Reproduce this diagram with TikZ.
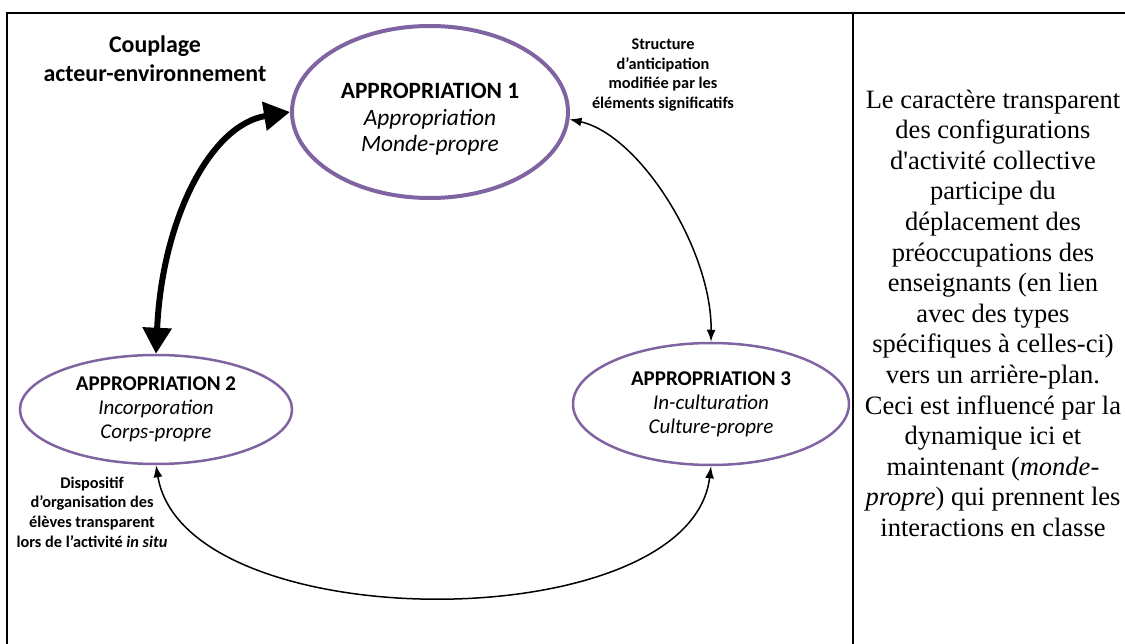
\documentclass[tikz,border=0pt]{standalone}
\usepackage{fontspec}
\setmainfont{Carlito}
\newfontfamily\cellfont{Liberation Serif}
\usetikzlibrary{shapes.geometric,arrows.meta}
\definecolor{phasepurple}{RGB}{128,100,162}

\begin{document}
\begin{tikzpicture}[x=1pt, y=-1pt,
        phase/.style={ellipse, draw=phasepurple, line width=2.5pt, inner sep=0pt, align=center, font=\fontsize{21}{24}\selectfont},
        mainphase/.style={phase, line width=4pt, font=\fontsize{23.4}{26.5}\selectfont},
        note/.style={align=center, anchor=base, inner sep=0pt, font=\bfseries\fontsize{16.3}{19.6}\selectfont},
        headline/.style={note, font=\bfseries\fontsize{23.9}{29}\selectfont},
        cell/.style={align=center, anchor=base, inner sep=0pt, font=\cellfont\fontsize{26.5}{30.6}\selectfont},
        link/.style={draw, <->, >={Latex[length=12pt,width=9pt]}, line width=1.5pt},
        thickarrow/.style={draw, <->, >={Triangle[length=26pt,width=28pt]}, line width=6pt}
    ]
        \useasboundingbox (0,0) rectangle (1125,644);
        \draw[line width=1.5pt] (7,644) -- (7,13) -- (1125,13);
        \draw[line width=1.5pt] (853,13) -- (853,644);

        \node[mainphase, minimum width=276pt, minimum height=172pt] (app1) at (430,112) {\rule{0pt}{30pt}\textbf{APPROPRIATION 1}\\ \textit{Appropriation}\\ \textit{Monde-propre}};
        \node[phase, minimum width=272pt, minimum height=109pt] (app2) at (156,409.5) {\textbf{APPROPRIATION 2}\\ \textit{Incorporation}\\ \textit{Corps-propre}};
        \node[phase, minimum width=276pt, minimum height=122pt] (app3) at (711,404) {\textbf{APPROPRIATION 3}\\ \textit{In-culturation}\\ \textit{Culture-propre}};

        \node[headline] (couplage) at (155,82) {Couplage\\ acteur-environnement};
        \node[note] (antic) at (663,108.5) {Structure\\ d’anticipation\\ modifiée par les\\ éléments significatifs};
        \node[note] (dispo) at (92,547) {Dispositif\\ d’organisation des\\ élèves transparent\\ lors de l’activité \textit{in situ}};

        \draw[thickarrow] (app2.north) .. controls (162,220) and (210,125) .. (app1.west);
        \draw[link] (app1.357) .. controls (640,135) and (712,250) .. (app3.north);
        \draw[link] (app2.south) .. controls (185,640) and (690,640) .. (app3.south);

        \node[cell] (comment) at (993,536.4) {Le caractère transparent\\ des configurations\\ d\textquotesingle activité collective\\ participe du\\ déplacement des\\ préoccupations des\\ enseignants (en lien\\ avec des types\\ spécifiques à celles-ci)\\ vers un arrière-plan.\\ Ceci est influencé par la\\ dynamique ici et\\ maintenant (\textit{monde-}\\ \textit{propre}) qui prennent les\\ interactions en classe};
\end{tikzpicture}
\end{document}
